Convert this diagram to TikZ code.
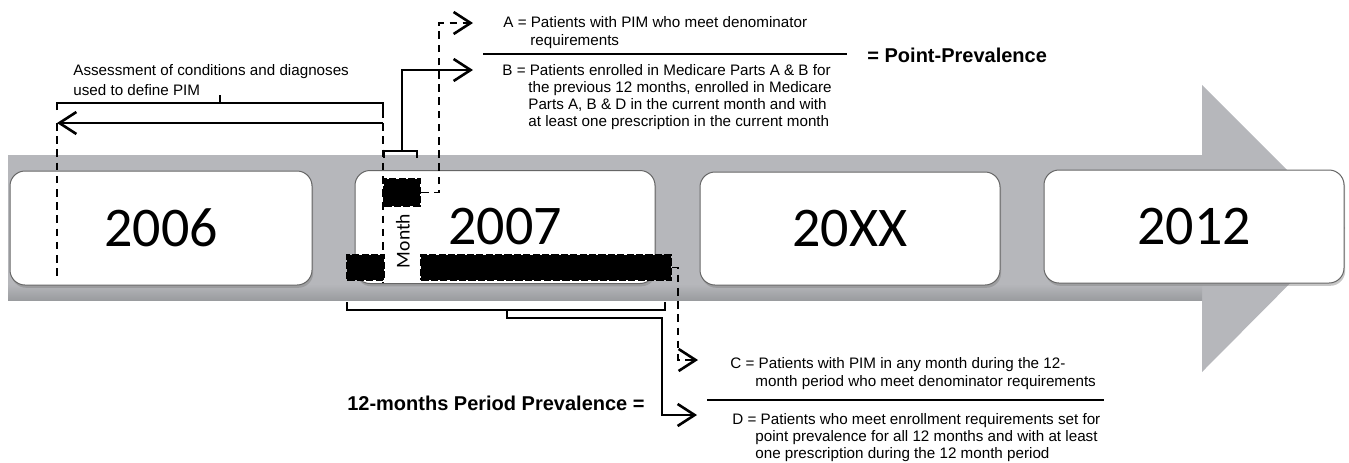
\documentclass[tikz,border=0pt]{standalone}
\usepackage{fontspec}
\setmainfont{Liberation Sans}
\newfontfamily\yearfont{Carlito}
\usetikzlibrary{arrows.meta,shadows}
\definecolor{band}{HTML}{B6B7BB}
\definecolor{bandd}{HTML}{9A9C9F}
\begin{document}
\begin{tikzpicture}[x=0.5pt,y=-0.5pt,
  txt/.style={font=\fontsize{7.6}{8.5}\selectfont, anchor=base west, inner sep=0pt},
  boldtxt/.style={font=\bfseries\fontsize{10}{12}\selectfont, inner sep=0pt},
  yearbox/.style={draw=black!60, line width=0.5pt, fill=white, rounded corners=7.5pt,
     minimum width=150pt, minimum height=56.5pt, inner sep=0pt,
     drop shadow={shadow xshift=0.6pt, shadow yshift=-1.4pt, opacity=0.45},
     font=\yearfont\fontsize{28}{30}\selectfont},
  blk/.style={fill=black, draw=black, line width=1.4pt, dash pattern=on 3.6pt off 1.1pt, inner sep=0pt},
  solidln/.style={line width=1.1pt},
  bracel/.style={line width=0.75pt},
  dashln/.style={line width=0.95pt, dash pattern=on 3.8pt off 2.8pt},
  arr/.style={-{Straight Barb[length=8.5pt,width=11pt,line width=1.3pt]}}
]
\useasboundingbox (0,0) rectangle (1349,462);
% grey timeline arrow
\fill[band] (8,155) -- (1202,155) -- (1202,85) -- (1345,228) -- (1202,372) -- (1202,300) -- (8,300) -- cycle;
\shade[top color=band, bottom color=bandd] (8,284) rectangle (1202,300);
% year boxes
\node[yearbox, minimum width=151pt, minimum height=57pt] (y2006) at (161,228) {2006};
\node[yearbox] (y2007) at (505,227) {2007};
\node[yearbox] (y20xx) at (850,228.5) {20XX};
\node[yearbox] (y2012) at (1194,226.5) {2012};
% black month blocks
\node[blk, minimum width=17.6pt, minimum height=13.1pt] (mblk) at (402,192.5) {};
\node[blk, minimum width=18.1pt, minimum height=12.1pt] (lblk) at (365.5,267.5) {};
\node[blk, minimum width=124.6pt, minimum height=12.1pt] (bar) at (546,267.5) {};
\node[rotate=90, inner sep=0pt, font=\yearfont\fontsize{9.8}{10}\selectfont] (mon) at (403,241) {Month};
% texts
\node[txt] (a1) at (503,27) {A = Patients with PIM who meet denominator};
\node[txt] (a2) at (530,45) {requirements};
\node[txt] (b1) at (502,75) {B = Patients enrolled in Medicare Parts A \& B for};
\node[txt] (b2) at (528,92) {the previous 12 months, enrolled in Medicare};
\node[txt] (b3) at (528,109) {Parts A, B \& D in the current month and with};
\node[txt] (b4) at (528,126) {at least one prescription in the current month};
\node[boldtxt, anchor=base west] (pp) at (867,62) {= Point-Prevalence};
\node[txt] (as1) at (73,75) {Assessment of conditions and diagnoses};
\node[txt] (as2) at (73,95) {used to define PIM};
\node[txt] (c1) at (730,368) {C = Patients with PIM in any month during the 12-};
\node[txt] (c2) at (755,386) {month period who meet denominator requirements};
\node[txt] (d1) at (732,424) {D = Patients who meet enrollment requirements set for};
\node[txt] (d2) at (755,441) {point prevalence for all 12 months and with at least};
\node[txt] (d3) at (755,458) {one prescription during the 12 month period};
\node[boldtxt, anchor=base east] (per) at (645,410) {12-months Period Prevalence =};
% fraction lines
\coordinate (f1l) at (483,54); \coordinate (f1r) at (847,54);
\draw[solidln] (f1l) -- (f1r);
\coordinate (f2l) at (707,400); \coordinate (f2r) at (1104,400);
\draw[solidln] (f2l) -- (f2r);
% assessment brace and arrow
\draw[bracel] (57,110) -- (57,103) -- (383,103) -- (383,110);
\draw[bracel] (220,103) -- (220,95);
\coordinate (asR) at (383,123); \coordinate (asL) at (57,123);
\draw[solidln, arr] (asR) -- (asL);
\draw[dashln] (asL) -- (57,278);
\draw[dashln] (383,110) -- (383,282);
% month brace and connector to B
\draw[bracel] (384,158) -- (384,151) -- (417,151) -- (417,158);
\coordinate (mb) at (402,151);
\coordinate (bt) at (473,70);
\draw[solidln, arr] (mb) |- (bt);
% dashed connector to A
\coordinate (at) at (473,23);
\draw[dashln, arr] (mblk.east) -- (439,192.5) -- (439,23) -- (at);
% bottom brace and connector to D
\draw[bracel] (347,302) -- (347,310) -- (665,310) -- (665,302);
\coordinate (bb) at (507,310);
\coordinate (dt) at (697,415);
\draw[solidln, arr] (bb) -- (507,318) -- (662,318) -- (662,415) -- (dt);
% dashed connector to C
\coordinate (ct) at (698,360);
\draw[dashln, arr] (bar.east) -- (678,267.5) -- (678,360) -- (ct);
\end{tikzpicture}
\end{document}
